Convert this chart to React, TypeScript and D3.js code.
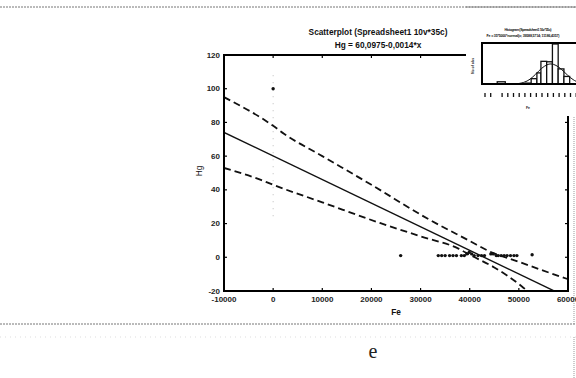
import React from "react";
import * as d3 from "d3";

const W = 576;
const H = 378;

const xTicks = [-10000, 0, 10000, 20000, 30000, 40000, 50000, 60000];
const yTicks = [-20, 0, 20, 40, 60, 80, 100, 120];

// scatter data (Fe, Hg)
const feValues = [0, 25950, 33600, 34300, 35000, 35900, 36600, 37300, 38300, 38900, 39400, 39900, 40400, 40900, 41700, 42400, 43000, 44300, 44800, 45400, 45800, 46400, 47000, 47600, 48300, 49000, 49600, 52700];
const hgValues = [100, 1, 1, 1, 1, 1, 1, 1, 1, 1, 2, 3, 2, 1, 1, 1, 1, 2, 2, 1, 1, 1, 1, 1, 1, 1, 1, 1.5];

// regression Hg = 60,0975 - 0,0014*x
const intercept = 60.0975;
const slope = -0.0014;

// confidence bands
const bandX = [-10000, 0, 2200, 10000, 20000, 31750, 40000, 43850, 50000, 58000, 60000];
const bandUpper = [95, 78, 73.3, 60, 43, 22.4, 9.7, 3.7, -2.7, -11, -13];
const bandLowerX = [-10000, -2500, 0, 10000, 21700, 30000, 37800, 40000, 45000, 50500, 52500];
const bandLower = [53, 45.9, 43, 32.6, 20.4, 12.4, 5, 1.5, -6, -17, -22];

// inset histogram (bin start, bin end, count)
const histStart = [2.3, 7.2, 8.2, 9.2, 9.9, 10.9, 11.9, 12.9, 13.9];
const histEnd = [3.7, 8.2, 9.2, 9.9, 10.9, 11.9, 12.9, 13.9, 14.9];
const histCount = [0.5, 0.2, 1.2, 2.5, 5.1, 5.0, 9.0, 3.4, 1.7];
const curveX = [5.5, 7, 8, 9, 10, 11, 11.6, 12.5, 13.5, 14.5, 15.5, 16.5];
const curveY = [0, 0.3, 1.0, 2.2, 3.6, 4.4, 4.6, 4.3, 3.3, 2.0, 0.9, 0.3];

export default function App() {
  const left = 224, right = 568, top = 55, bottom = 291;
  const x = d3.scaleLinear().domain([-10000, 60000]).range([left, right]);
  const y = d3.scaleLinear().domain([-20, 120]).range([bottom, top]);

  const line = d3.line<[number, number]>().x(d => x(d[0])).y(d => y(d[1])).curve(d3.curveMonotoneX);
  const upperPts = bandX.map((v, i) => [v, bandUpper[i]] as [number, number]);
  const lowerPts = bandLowerX.map((v, i) => [v, bandLower[i]] as [number, number]);
  const regPts: [number, number][] = [[-10000, intercept + slope * -10000], [60000, intercept + slope * 60000]];
  const straight = d3.line<[number, number]>().x(d => x(d[0])).y(d => y(d[1]));

  // inset scales
  const ix = d3.scaleLinear().domain([0, 16]).range([484, 576]);
  const iy = d3.scaleLinear().domain([0, 9]).range([84, 44]);
  const icurve = d3.line<number>().x((_, i) => ix(curveX[i])).y(d => iy(d)).curve(d3.curveBasis);

  const font = "'Liberation Sans', Arial, sans-serif";
  const tickLen = 3;

  return (
    <svg width={W} height={H} style={{ position: "absolute", left: 0, top: 0, background: "#fff" }} fontFamily={font}>
      <defs>
        <clipPath id="plotclip">
          <rect x={left} y={top} width={right - left} height={bottom - top} />
        </clipPath>
      </defs>
      <rect x={0} y={0} width={W} height={H} fill="#fff" />
      {/* page frame (dotted, scanned look) */}
      <line x1={0} x2={W} y1={7} y2={7} stroke="#777" strokeWidth={1} strokeDasharray="2 1" />
      <line x1={0} x2={W} y1={324} y2={324} stroke="#777" strokeWidth={1} strokeDasharray="2 1" />
      <line x1={0} x2={W} y1={337} y2={337} stroke="#ddd" strokeWidth={1} strokeDasharray="1 4" />
      <line x1={574} x2={574} y1={7} y2={324} stroke="#999" strokeWidth={1} strokeDasharray="1 1" />
      <line x1={574} x2={574} y1={337} y2={H} stroke="#999" strokeWidth={1} strokeDasharray="1 1" />

      {/* title */}
      <text x={378} y={34.5} textAnchor="middle" fontSize={8.3} fontWeight="bold" fill="#111">Scatterplot (Spreadsheet1 10v*35c)</text>
      <text x={378} y={48} textAnchor="middle" fontSize={8.3} fontWeight="bold" fill="#111">Hg = 60,0975-0,0014*x</text>

      {/* faint dotted column */}
      <line x1={x(0)} x2={x(0)} y1={y(108)} y2={y(24)} stroke="#bbb" strokeWidth={1} strokeDasharray="1 6" />

      {/* data lines */}
      <g clipPath="url(#plotclip)">
        <path d={straight(regPts) || ""} fill="none" stroke="#111" strokeWidth={1.4} />
        <path d={line(upperPts) || ""} fill="none" stroke="#111" strokeWidth={1.8} strokeDasharray="7 4" />
        <path d={line(lowerPts) || ""} fill="none" stroke="#111" strokeWidth={1.8} strokeDasharray="7 4" />
      </g>

      {/* points */}
      {feValues.map((v, i) => (
        <circle key={i} cx={x(v)} cy={y(hgValues[i])} r={1.7} fill="#111" />
      ))}

      {/* axes frame */}
      <line x1={left} x2={left} y1={top} y2={bottom + 1} stroke="#000" strokeWidth={2} />
      <line x1={left - 1} x2={right + 1} y1={bottom} y2={bottom} stroke="#000" strokeWidth={2} />
      <line x1={left - 1} x2={right} y1={top} y2={top} stroke="#000" strokeWidth={2} />
      <line x1={right} x2={right} y1={top} y2={bottom + 1} stroke="#000" strokeWidth={2} />

      {/* ticks */}
      {yTicks.map(t => (
        <g key={"y" + t}>
          <line x1={left} x2={left + tickLen} y1={y(t)} y2={y(t)} stroke="#000" strokeWidth={1.2} />
          <line x1={right - tickLen} x2={right} y1={y(t)} y2={y(t)} stroke="#000" strokeWidth={1.2} />
          <text x={left - 4} y={y(t) + 2.5} textAnchor="end" fontSize={8} fontWeight="bold" fill="#222">{t}</text>
        </g>
      ))}
      {xTicks.map(t => (
        <g key={"x" + t}>
          <line x1={x(t)} x2={x(t)} y1={bottom - tickLen} y2={bottom} stroke="#000" strokeWidth={1.2} />
          <line x1={x(t)} x2={x(t)} y1={top} y2={top + tickLen} stroke="#000" strokeWidth={1.2} />
          <text x={x(t)} y={bottom + 11} textAnchor="middle" fontSize={8} fontWeight="bold" fill="#222">{t}</text>
        </g>
      ))}

      {/* axis titles */}
      <text x={(left + right) / 2} y={315} textAnchor="middle" fontSize={8.3} fontWeight="bold" fill="#111">Fe</text>
      <text transform={`translate(202,171) rotate(-90)`} textAnchor="middle" fontSize={8.3} fill="#111">Hg</text>

      {/* inset histogram */}
      <rect x={466} y={8} width={110} height={108} fill="#fff" />
      <line x1={466} x2={576} y1={7} y2={7} stroke="#777" strokeWidth={1} strokeDasharray="2 1" />
      <text x={528} y={31} textAnchor="middle" fontSize={3.6} fontWeight="bold" textLength={47} fill="#111">Histogram (Spreadsheet1 10v*35c)</text>
      <text x={523} y={36.5} textAnchor="middle" fontSize={3.6} fontWeight="bold" textLength={73} fill="#111">Fe = 35*5000*normal(x; 39588,5714; 11186,4357)</text>
      {histCount.map((c, i) => (
        <rect key={i} x={ix(histStart[i])} y={iy(c)} width={ix(histEnd[i]) - ix(histStart[i])} height={iy(0) - iy(c)} fill="#fff" stroke="#111" strokeWidth={1.3} />
      ))}
      <path d={icurve(curveY) || ""} fill="none" stroke="#111" strokeWidth={1} />
      <rect x={482} y={43} width={100} height={41} fill="none" stroke="#000" strokeWidth={2} />
      {d3.range(0, 17).filter(k => k !== 2).map(k => (
        <line key={k} x1={485 + 5.7 * k} x2={485 + 5.7 * k} y1={93} y2={97} stroke="#111" strokeWidth={1.3} />
      ))}
      <text transform="translate(474,66) rotate(-90)" textAnchor="middle" fontSize={3.5} fontWeight="bold" fill="#222">No of obs</text>
      <text x={528} y={109} textAnchor="middle" fontSize={3.5} fontWeight="bold" fill="#222">Fe</text>

      {/* lower panel letter */}
      <text x={373} y={358} textAnchor="middle" fontSize={20} fontFamily="'Liberation Serif', 'DejaVu Serif', serif" fill="#222">e</text>
    </svg>
  );
}
